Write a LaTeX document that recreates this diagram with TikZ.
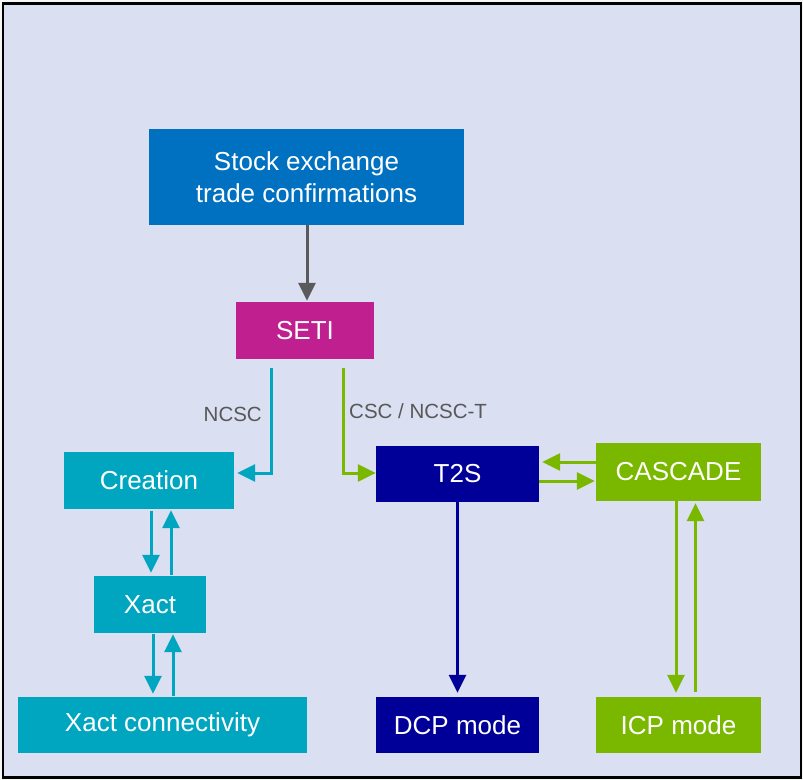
\documentclass[tikz,border=0pt]{standalone}
\usepackage{fontspec}
\setmainfont{Liberation Sans}
\usetikzlibrary{arrows.meta,calc}
\definecolor{bg}{RGB}{218,224,242}
\definecolor{cblue}{RGB}{0,112,192}
\definecolor{cmag}{RGB}{192,32,143}
\definecolor{ccyan}{RGB}{0,166,192}
\definecolor{cnavy}{RGB}{0,0,153}
\definecolor{cgreen}{RGB}{122,184,0}
\definecolor{cgray}{RGB}{88,88,88}
\definecolor{cline}{RGB}{90,90,90}
\begin{document}
\begin{tikzpicture}[x=1bp,y=-1bp,
  box/.style={rectangle, inner sep=0pt, text=white, align=center,
    font=\fontsize{26bp}{32bp}\selectfont},
  lbl/.style={inner sep=0pt, text=cgray, font=\fontsize{20.5bp}{24bp}\selectfont},
  arr/.style={line width=3bp, -{Triangle[length=18bp,width=17bp]}}]
\useasboundingbox (0,0) rectangle (803,780);
\fill[gray!8] (0,0) rectangle (803,780);
\draw[line width=2.5bp, fill=bg] (3,3.5) rectangle (801,777.5);

\node[box, fill=cblue, minimum width=315bp, minimum height=96bp] (stock) at (306.5,177) {Stock exchange\\trade confirmations};
\node[box, fill=cmag, minimum width=138bp, minimum height=57bp] (seti) at (305,330.5) {SETI};
\node[box, fill=ccyan, minimum width=170bp, minimum height=57bp] (creation) at (149,480.5) {Creation};
\node[box, fill=cnavy, minimum width=163bp, minimum height=56bp] (t2s) at (457.5,474) {T2S};
\node[box, fill=cgreen, minimum width=165bp, minimum height=58bp] (cascade) at (678.5,472) {CASCADE};
\node[box, fill=ccyan, minimum width=112bp, minimum height=57bp] (xact) at (150,604.5) {Xact};
\node[box, fill=ccyan, minimum width=289bp, minimum height=56bp] (xconn) at (162.5,725) {Xact connectivity};
\node[box, fill=cnavy, minimum width=163bp, minimum height=56bp] (dcp) at (457.5,725) {DCP mode};
\node[box, fill=cgreen, minimum width=165bp, minimum height=56bp] (icp) at (678.5,725) {ICP mode};

\node[lbl, anchor=east] (lncsc) at (262,414) {NCSC};
\node[lbl, anchor=west] (lcsc) at (349,411) {CSC / NCSC-T};

% stock -> seti
\draw[arr, cline, shorten >=1bp] ([xshift=0.5bp]stock.south) -- ([xshift=0.5bp]stock.south |- seti.north);
% seti -> creation / t2s
\draw[arr, ccyan, shorten >=3bp] ([xshift=-34bp,yshift=-9bp]seti.south) |- ([yshift=7.5bp]creation.east);
\draw[arr, cgreen] ([xshift=38bp,yshift=-9bp]seti.south) |- ([yshift=1bp]t2s.west);
% creation <-> xact
\draw[arr, ccyan, shorten <=2bp, shorten >=3bp] ([xshift=2bp]creation.south) -- ([xshift=2bp]creation.south |- xact.north);
\draw[arr, ccyan, shorten <=1bp, shorten >=1bp] ([xshift=22bp]creation.south |- xact.north) -- ([xshift=22bp]creation.south);
% xact <-> xconn
\draw[arr, ccyan, shorten <=1bp, shorten >=3bp] ([xshift=3bp]xact.south) -- ([xshift=3bp]xact.south |- xconn.north);
\draw[arr, ccyan, shorten <=1bp, shorten >=1bp] ([xshift=23bp]xact.south |- xconn.north) -- ([xshift=23bp]xact.south);
% t2s <-> cascade
\draw[arr, cgreen, shorten >=3bp] ([yshift=10bp]cascade.west) -- ([yshift=10bp]cascade.west -| t2s.east);
\draw[arr, cgreen, shorten >=1bp] ([yshift=-9bp]cascade.west -| t2s.east) -- ([yshift=-9bp]cascade.west);
% t2s -> dcp
\draw[arr, cnavy, shorten >=4bp] (t2s.south) -- (t2s.south |- dcp.north);
% cascade <-> icp
\draw[arr, cgreen, shorten >=4bp] ([xshift=-2.5bp]cascade.south) -- ([xshift=-2.5bp]cascade.south |- icp.north);
\draw[arr, cgreen, shorten <=5bp, shorten >=2bp] ([xshift=17bp]cascade.south |- icp.north) -- ([xshift=17bp]cascade.south);
\end{tikzpicture}
\end{document}
